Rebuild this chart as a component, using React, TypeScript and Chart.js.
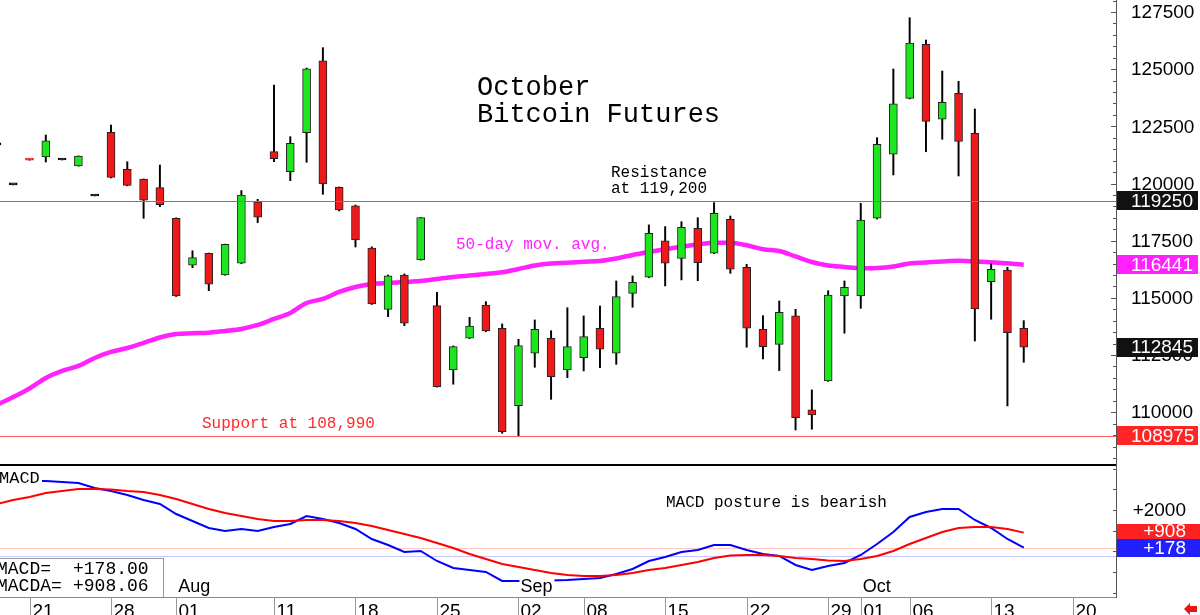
import React, { useEffect, useRef } from "react";
import { Chart, registerables } from "chart.js";
Chart.register(...registerables);

// ---------- DATA ----------
const dates = [
  "07-17","07-18","07-21","07-22","07-23","07-24","07-25","07-28","07-29","07-30","07-31","08-01",
  "08-04","08-05","08-06","08-07","08-08","08-11","08-12","08-13","08-14","08-15",
  "08-18","08-19","08-20","08-21","08-22","08-25","08-26","08-27","08-28","08-29",
  "09-02","09-03","09-04","09-05","09-08","09-09","09-10","09-11","09-12",
  "09-15","09-16","09-17","09-18","09-19","09-22","09-23","09-24","09-25","09-26",
  "09-29","09-30","10-01","10-02","10-03","10-06","10-07","10-08","10-09","10-10",
  "10-13","10-14","10-15","10-16","10-17","10-20","10-21","10-22",
];

const opens = [
  121690, 119940, 121050, 121160, 121030, 120770, 119455, 122240, 120620, 120190,
  119820, 118480, 116430, 116950, 116000, 116515, 119205, 121395, 120520, 122225,
  125360, 119835, 119030, 117180, 114500, 116000, 116660, 114660, 111850, 113235,
  114690, 113670, 110290, 112580, 113235, 111850, 112385, 113670, 112580, 115200,
  115900, 117490, 116730, 118040, 116950, 118435, 116340, 113625, 112970, 114210,
  110100, 111365, 115085, 115085, 118480, 121280, 123725, 126090, 122810, 123945,
  122195, 115710, 116220, 113670,
];
const highs = [
  121690, 119940, 121050, 122120, 121030, 121210, 119455, 122560, 120955, 120200,
  120810, 118500, 117060, 116960, 117350, 119690, 119310, 124310, 122050, 125050,
  125940, 119850, 119060, 117230, 116000, 116050, 118520, 115245, 112900, 114150,
  114835, 113860, 113190, 114035, 113565, 114570, 114210, 114645, 115740, 115960,
  118190, 118115, 118330, 118505, 119165, 118580, 116470, 114220, 114865, 114500,
  110975, 115315, 115740, 119135, 122005, 125010, 127250, 126275, 124920, 124470,
  123260, 116485, 116340, 114005,
];
const lows = [
  121690, 119940, 121020, 120940, 121030, 120760, 119455, 120250, 119900, 118480,
  118990, 115060, 116320, 115315, 115990, 116500, 118290, 120955, 120125, 120930,
  119530, 118800, 117225, 114710, 114180, 113785, 116650, 111100, 111225, 113220,
  113520, 109080, 108950, 111965, 110565, 111510, 111805, 111950, 112095, 114590,
  115880, 115520, 115785, 115750, 116930, 116075, 112840, 112330, 111820, 109225,
  109255, 111350, 113455, 114545, 118450, 120375, 123700, 121390, 121935, 120330,
  113115, 114065, 110275, 112185,
];
const closes = [
  121690, 119940, 121020, 121870, 121030, 121200, 119455, 120270, 119920, 119270,
  119075, 115085, 116760, 115595, 117345, 119500, 118525, 121090, 121760, 125010,
  119980, 118845, 117530, 114735, 115960, 113890, 118510, 111120, 112865, 113770,
  113555, 109150, 112910, 113625, 111555, 112865, 113305, 112755, 115055, 115680,
  117825, 116515, 118085, 116540, 118700, 116250, 113670, 112865, 114370, 109765,
  109880, 115125, 115465, 118405, 121715, 123480, 126145, 122720, 123550, 121845,
  114515, 116250, 113480, 112845,
];
const ma50 = [
  110318, 110668, 111040, 111499, 111805, 112023, 112373, 112635, 112810, 113029,
  113269, 113422, 113453, 113479, 113553, 113641, 113816, 114078, 114340, 114778,
  114953, 115259, 115477, 115609, 115652, 115696, 115739, 115827, 115914, 115980,
  116046, 116120, 116264, 116417, 116505, 116535, 116579, 116614, 116723, 116876,
  117007, 117125, 117239, 117335, 117414, 117410, 117300, 117125, 117051, 116810,
  116570, 116417, 116351, 116294, 116307, 116373, 116505, 116548, 116592, 116623,
  116592, 116557, 116513, 116441,
];
const macd = [
  3420, 3410, 3405, 3401, 3350, 3304, 3063, 2918, 2725, 2483,
  2290, 1807, 1469, 1131, 986, 1082, 986, 1179, 1324, 1710,
  1565, 1372, 1082, 599, 310, -29, 20, -463, -801, -898,
  -995, -1429, -1429, -1420, -1410, -1381, -1333, -1284, -1091, -850,
  -463, -270, -29, 68, 310, 310, 68, -125, -222, -657,
  -898, -705, -560, -174, 358, 937, 1662, 1903, 2048, 2048,
  1517, 1131, 599, 178.0,
];
const macdAvg = [
  2290, 2483, 2628, 2821, 2918, 3014, 3014, 2990, 2918, 2869,
  2725, 2531, 2290, 2048, 1855, 1710, 1565, 1469, 1469, 1517,
  1517, 1469, 1372, 1227, 1034, 841, 648, 406, 165, -125,
  -367, -608, -753, -898, -1043, -1140, -1188, -1188, -1140, -1043,
  -898, -801, -657, -512, -318, -198, -174, -174, -222, -318,
  -367, -440, -463, -367, -222, 20, 358, 648, 937, 1131,
  1179, 1179, 1082, 908.06,
];

const priceTickLabels = [110000, 112500, 115000, 117500, 120000, 122500, 125000, 127500];
const macdTickValues = [-2000, -1000, 0, 1000, 2000, 3000, 4000];
const macdTickLabels = [2000];
const macdGuides = [178, -222];
const dateTicks = [
  ["07-21", "21"], ["07-28", "28"], ["08-01", "01"], ["08-11", "11"], ["08-18", "18"],
  ["08-25", "25"], ["09-02", "02"], ["09-08", "08"], ["09-15", "15"], ["09-22", "22"],
  ["09-29", "29"], ["10-01", "01"], ["10-06", "06"], ["10-13", "13"], ["10-20", "20"],
];
const monthLabels = [["08-01", "Aug"], ["09-02", "Sep"], ["10-01", "Oct"]];
const resistanceLevel = 119250;
const supportLevel = 108975;
const titleLines = ["October", "Bitcoin Futures"];
const resistanceText = ["Resistance", "at 119,200"];
const supportText = "Support at 108,990";
const maText = "50-day mov. avg.";
const postureText = "MACD posture is bearish";

// ---------- STYLE ----------
const AXIS_X = 1116;
const GREEN = "#1ee61e";
const RED = "#ee1a1a";
const MAGENTA = "#ff22ff";
const MONO = '"Liberation Mono", "DejaVu Sans Mono", monospace';
const SANS = '"Liberation Sans", Arial, sans-serif';
const X_MIN = 0.19;
const X_MAX = 68.66;

const candleColor = (k: number) =>
  closes[k] > opens[k] ? GREEN : closes[k] < opens[k] ? RED : "#000";

const fmtSigned = (v: number, d = 0) => (v >= 0 ? "+" : "") + v.toFixed(d);

const mainPlugin = {
  id: "mainDecor",
  afterDatasetsDraw(chart: any) {
    const { ctx, chartArea: a, scales } = chart;
    const y = scales.y;
    ctx.save();
    const hline = (v: number, color: string) => {
      const py = Math.round(y.getPixelForValue(v)) + 0.5;
      ctx.strokeStyle = color;
      ctx.lineWidth = 1;
      ctx.beginPath();
      ctx.moveTo(a.left, py);
      ctx.lineTo(a.right, py);
      ctx.stroke();
    };
    hline(resistanceLevel, "#7a7a7a");
    hline(supportLevel, "#ff6060");

    ctx.textAlign = "left";
    ctx.textBaseline = "alphabetic";
    ctx.fillStyle = "#000";
    ctx.font = `27px ${MONO}`;
    ctx.fillText(titleLines[0], 477, 95);
    ctx.fillText(titleLines[1], 477, 122);
    ctx.font = `16px ${MONO}`;
    ctx.fillText(resistanceText[0], 611, 177);
    ctx.fillText(resistanceText[1], 611, 193);
    ctx.fillStyle = MAGENTA;
    ctx.fillText(maText, 456, 249);
    ctx.fillStyle = "#ff2a2a";
    ctx.fillText(supportText, 202, 428);
    ctx.restore();
  },
  afterDraw(chart: any) {
    const { ctx, chartArea: a, scales } = chart;
    const y = scales.y;
    ctx.save();
    ctx.fillStyle = "#555";
    ctx.fillRect(AXIS_X, 0, 1, a.bottom);
    // ticks
    ctx.strokeStyle = "#555";
    ctx.lineWidth = 1;
    for (let v = 108000; v <= 128000; v += 500) {
      const py = Math.round(y.getPixelForValue(v)) + 0.5;
      const len = v % 2500 === 0 ? 5 : 3;
      ctx.beginPath();
      ctx.moveTo(AXIS_X - len, py);
      ctx.lineTo(AXIS_X, py);
      ctx.stroke();
    }
    ctx.font = `19px ${SANS}`;
    ctx.textBaseline = "middle";
    ctx.textAlign = "left";
    ctx.fillStyle = "#000";
    priceTickLabels.forEach((v) => {
      ctx.fillText(String(v), 1131, y.getPixelForValue(v) + 1);
    });
    const boxes: [number, string][] = [
      [resistanceLevel, "#111"],
      [Math.round(ma50[ma50.length - 1]), MAGENTA],
      [closes[closes.length - 1], "#111"],
      [supportLevel, "#ff2525"],
    ];
    boxes.forEach(([v, bg]) => {
      const py = y.getPixelForValue(v);
      ctx.fillStyle = bg;
      ctx.fillRect(AXIS_X + 1, Math.round(py - 9.5), 81, 19);
      ctx.fillStyle = "#fff";
      ctx.fillText(String(v), 1131, py + 1);
    });
    ctx.restore();
  },
};

const macdPlugin = {
  id: "macdDecor",
  beforeDatasetsDraw(chart: any) {
    const { ctx, chartArea: a, scales } = chart;
    const y = scales.y;
    ctx.save();
    const colors = ["#ffc4c4", "#c8c8ff"];
    macdGuides.forEach((v, i) => {
      const py = Math.round(y.getPixelForValue(v)) + 0.5;
      ctx.strokeStyle = colors[i];
      ctx.lineWidth = 1;
      ctx.beginPath();
      ctx.moveTo(a.left, py);
      ctx.lineTo(a.right, py);
      ctx.stroke();
    });
    ctx.restore();
  },
  afterDatasetsDraw(chart: any) {
    const { ctx, chartArea: a, scales } = chart;
    const x = scales.x;
    ctx.save();
    ctx.textAlign = "left";
    ctx.textBaseline = "alphabetic";
    // MACD label
    ctx.fillStyle = "#fff";
    ctx.fillRect(0, 4, 42, 19);
    ctx.fillStyle = "#000";
    ctx.font = `17px ${MONO}`;
    ctx.fillText("MACD", -1, 19);
    // posture text
    ctx.font = `16px ${MONO}`;
    ctx.fillText(postureText, 666, 43);
    // month labels
    ctx.font = `18px ${SANS}`;
    monthLabels.forEach(([d, lbl]) => {
      const px = x.getPixelForValue(dates.indexOf(d)) + 2;
      const w = ctx.measureText(lbl).width;
      ctx.fillStyle = "#fff";
      ctx.fillRect(px - 1, 113, w + 3, 19);
      ctx.fillStyle = "#000";
      ctx.fillText(lbl, px, 128);
    });
    // info box
    ctx.fillStyle = "#fff";
    ctx.fillRect(-1, 94, 165, 39);
    ctx.strokeStyle = "#999";
    ctx.lineWidth = 1;
    ctx.strokeRect(-1.5, 94.5, 165, 39);
    ctx.fillStyle = "#000";
    ctx.font = `18px ${MONO}`;
    ctx.fillText("MACD=", -3, 110);
    ctx.fillText(fmtSigned(macd[macd.length - 1], 2), 73, 110);
    ctx.fillText("MACDA=", -3, 127);
    ctx.fillText(fmtSigned(macdAvg[macdAvg.length - 1], 2), 73, 127);
    ctx.restore();
  },
  afterDraw(chart: any) {
    const { ctx, chartArea: a, scales } = chart;
    const x = scales.x;
    const y = scales.y;
    ctx.save();
    // borders
    ctx.fillStyle = "#000";
    ctx.fillRect(0, 0, AXIS_X + 1, 2);
    ctx.fillStyle = "#888";
    ctx.fillRect(0, a.bottom, AXIS_X + 1, 1);
    ctx.fillStyle = "#555";
    ctx.fillRect(AXIS_X, 0, 1, a.bottom + 1);
    ctx.strokeStyle = "#555";
    ctx.lineWidth = 1;
    macdTickValues.forEach((v) => {
      const py = Math.round(y.getPixelForValue(v)) + 0.5;
      ctx.beginPath();
      ctx.moveTo(AXIS_X - 3, py);
      ctx.lineTo(AXIS_X, py);
      ctx.stroke();
    });
    ctx.font = `19px ${SANS}`;
    ctx.textAlign = "right";
    ctx.textBaseline = "middle";
    ctx.fillStyle = "#000";
    macdTickLabels.forEach((v) => {
      ctx.fillText(fmtSigned(v), 1186, y.getPixelForValue(v) + 1);
    });
    const avgV = macdAvg[macdAvg.length - 1];
    const mV = macd[macd.length - 1];
    const pa = y.getPixelForValue(avgV);
    const pm = y.getPixelForValue(mV);
    ctx.fillStyle = "#ff2020";
    ctx.fillRect(AXIS_X + 1, Math.round(pa - 9), 84, 18);
    ctx.fillStyle = "#2020ff";
    ctx.fillRect(AXIS_X + 1, Math.round(pm - 9), 84, 18);
    ctx.fillStyle = "#fff";
    ctx.fillText(fmtSigned(Math.round(avgV)), 1186, pa - 1);
    ctx.fillText(fmtSigned(Math.round(mV)), 1186, pm + 1);
    // date axis
    ctx.textAlign = "left";
    ctx.textBaseline = "top";
    ctx.font = `19px ${SANS}`;
    dateTicks.forEach(([d, lbl]) => {
      const px = Math.round(x.getPixelForValue(dates.indexOf(d))) + 0.5;
      ctx.strokeStyle = "#999";
      ctx.beginPath();
      ctx.moveTo(px, a.bottom);
      ctx.lineTo(px, 151);
      ctx.stroke();
      ctx.fillStyle = "#000";
      ctx.fillText(lbl, px + 2, 138);
    });
    // red arrow
    ctx.fillStyle = "#ee1111";
    ctx.beginPath();
    ctx.moveTo(1184, 145);
    ctx.lineTo(1190, 139);
    ctx.lineTo(1190, 142);
    ctx.lineTo(1197, 142);
    ctx.lineTo(1197, 148);
    ctx.lineTo(1190, 148);
    ctx.lineTo(1190, 151);
    ctx.closePath();
    ctx.fill();
    ctx.restore();
  },
};

export default function App() {
  const mainRef = useRef<HTMLCanvasElement>(null);
  const macdRef = useRef<HTMLCanvasElement>(null);

  useEffect(() => {
    document.body.style.margin = "0";
    const n = opens.length;
    const idx = Array.from({ length: n }, (_, k) => k);

    const main = new Chart(mainRef.current as HTMLCanvasElement, {
      type: "bar",
      data: {
        datasets: [
          {
            type: "line",
            data: idx.map((k) => ({ x: k, y: ma50[k] })),
            borderColor: MAGENTA,
            borderWidth: 4.5,
            pointRadius: 0,
            cubicInterpolationMode: "monotone",
            order: 3,
          } as any,
          {
            type: "bar",
            stack: "candle",
            data: idx.map((k) => ({ x: k, y: [lows[k], highs[k]] })),
            backgroundColor: "#000",
            barThickness: 1.3,
            order: 2,
          } as any,
          {
            type: "bar",
            stack: "candle",
            data: idx.map((k) => ({ x: k, y: [opens[k], closes[k]] })),
            backgroundColor: (c: any) => candleColor(c.dataIndex),
            borderColor: (c: any) =>
              Math.abs(closes[c.dataIndex] - opens[c.dataIndex]) < 100
                ? candleColor(c.dataIndex)
                : "#222",
            borderWidth: 1,
            borderSkipped: false,
            barThickness: 8,
            minBarLength: 2,
            order: 1,
          } as any,
        ],
      },
      options: {
        animation: false,
        responsive: false,
        events: [],
        layout: { padding: { left: 0, right: 84, top: 0, bottom: 0 } },
        plugins: { legend: { display: false }, tooltip: { enabled: false } },
        scales: {
          x: { type: "linear", min: X_MIN, max: X_MAX, offset: false, display: false },
          y: { type: "linear", min: 107736, max: 128025, display: false, stacked: false },
        },
      } as any,
      plugins: [mainPlugin],
    });

    const lower = new Chart(macdRef.current as HTMLCanvasElement, {
      type: "line",
      data: {
        datasets: [
          {
            data: idx.map((k) => ({ x: k, y: macdAvg[k] })),
            borderColor: "#ff0000",
            borderWidth: 2,
            pointRadius: 0,
            tension: 0,
          },
          {
            data: idx.map((k) => ({ x: k, y: macd[k] })),
            borderColor: "#0000ff",
            borderWidth: 2,
            pointRadius: 0,
            tension: 0,
          },
        ],
      },
      options: {
        animation: false,
        responsive: false,
        events: [],
        layout: { padding: { left: 0, right: 84, top: 1, bottom: 18 } },
        plugins: { legend: { display: false }, tooltip: { enabled: false } },
        scales: {
          x: { type: "linear", min: X_MIN, max: X_MAX, display: false },
          y: { type: "linear", min: -2203, max: 4174, display: false },
        },
      } as any,
      plugins: [macdPlugin],
    });

    return () => {
      main.destroy();
      lower.destroy();
    };
  }, []);

  return (
    <div style={{ width: 1200, height: 615, background: "#fff", overflow: "hidden" }}>
      <canvas ref={mainRef} width={1200} height={464} style={{ display: "block" }} />
      <canvas ref={macdRef} width={1200} height={151} style={{ display: "block" }} />
    </div>
  );
}
